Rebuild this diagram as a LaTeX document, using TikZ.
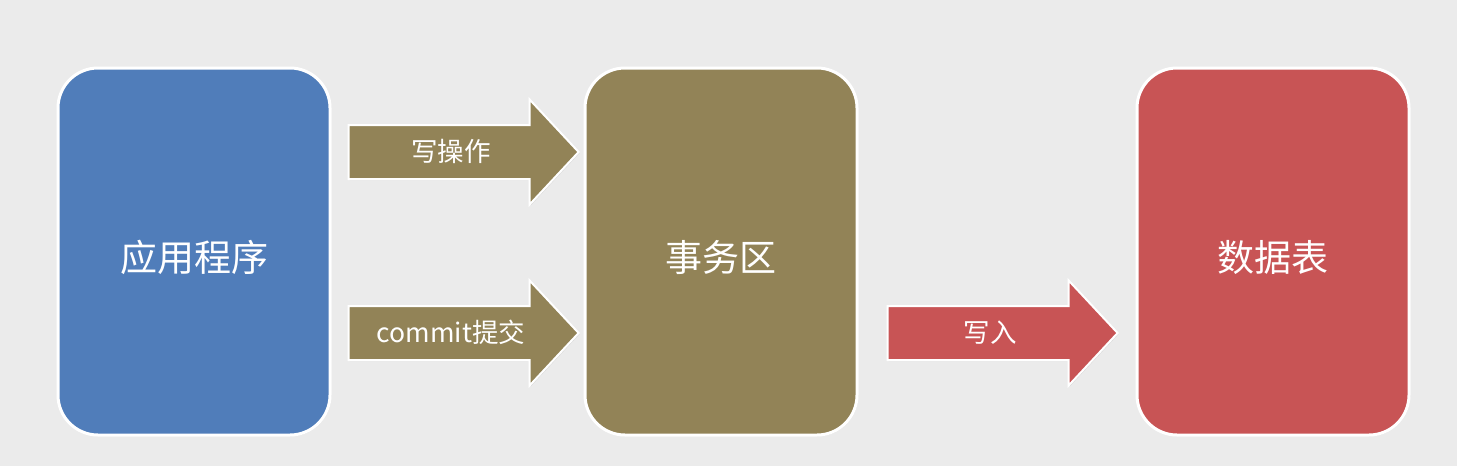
\documentclass[tikz,border=0pt]{standalone}
\usepackage{fontspec}
\setmainfont{Noto Sans CJK SC}
\usetikzlibrary{positioning,shapes.arrows,shadows}
\definecolor{bgcol}{RGB}{235,235,235}
\definecolor{appblue}{RGB}{80,125,186}
\definecolor{txolive}{RGB}{146,131,87}
\definecolor{tabred}{RGB}{200,84,85}
\tikzset{
    block/.style={draw=white, line width=3pt, rounded corners=40pt, minimum width=272pt,
        minimum height=367pt, text=white, font=\fontsize{37}{40}\selectfont,
        text height=40pt, text depth=0pt,
        drop shadow={opacity=0.25, shadow xshift=1pt, shadow yshift=-1pt}},
    flow/.style={single arrow, single arrow head extend=25.5pt, single arrow tip angle=94,
        minimum height=230pt, minimum width=103pt, inner ysep=0pt, inner xsep=4pt,
        text height=35pt, text depth=17pt, draw=white, line width=2pt, text=white,
        font=\fontsize{26.5}{28}\selectfont,
        drop shadow={opacity=0.2, shadow xshift=1pt, shadow yshift=-1pt}}
}
\begin{document}
\begin{tikzpicture}[x=1pt, y=-1pt]
    \fill[bgcol] (0,0) rectangle (1457,466);
    \useasboundingbox (0,0) rectangle (1457,466);
    \node[block, fill=appblue] (app) at (194,251.5) {应用程序};
    \node[block, fill=txolive, right=252pt of app] (tx) {事务区};
    \node[block, fill=tabred, right=277pt of tx] (tab) {数据表};
    \node[flow, fill=txolive] (write) at (451,152) {写操作};
    \node[flow, fill=txolive] (commit) at (451,333) {commit提交};
    \node[flow, fill=tabred] (flush) at (990,333) {写入};
\end{tikzpicture}
\end{document}
